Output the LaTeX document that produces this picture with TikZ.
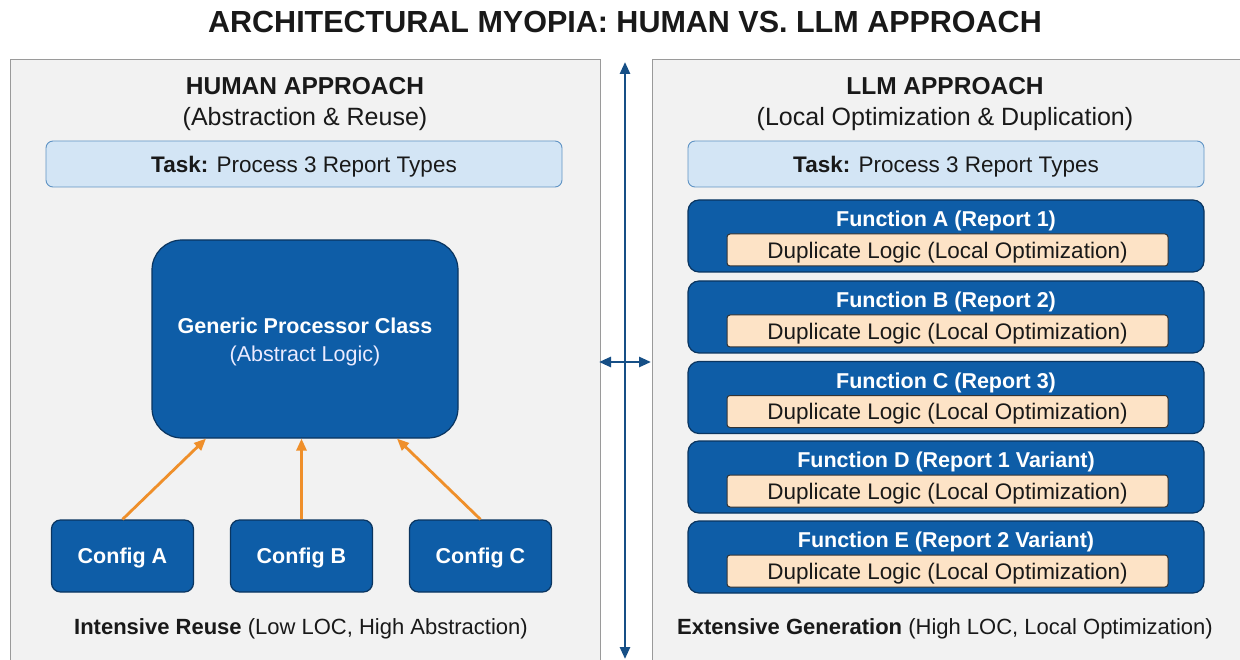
\documentclass[tikz,border=0pt]{standalone}
\usepackage{fontspec}
\setmainfont{Liberation Sans}
\usetikzlibrary{arrows.meta,calc}
\definecolor{panelgray}{HTML}{F2F2F2}
\definecolor{panelborder}{HTML}{9A9A9A}
\definecolor{dblue}{HTML}{0E5DA7}
\definecolor{dborder}{HTML}{0A3560}
\definecolor{lblue}{HTML}{D3E5F5}
\definecolor{lborder}{HTML}{5F93C4}
\definecolor{peach}{HTML}{FDE3C6}
\definecolor{orangeA}{HTML}{EF8F2A}
\definecolor{divblue}{HTML}{164F86}
\tikzset{
  every node/.style={text depth=0pt},
  panelfill/.style={fill=panelgray},
  panelline/.style={draw=panelborder,line width=1pt},
  taskbox/.style={rectangle,rounded corners=7pt,fill=lblue,draw=lborder,line width=0.9pt,minimum width=516pt,minimum height=46pt,font=\fontsize{22.5}{26}\selectfont,text=black!90},
  genbox/.style={rectangle,rounded corners=30pt,fill=dblue,draw=dborder,line width=1.2pt,minimum width=306pt,minimum height=198pt},
  cfgbox/.style={rectangle,rounded corners=9pt,fill=dblue,draw=dborder,line width=1.2pt,minimum width=142pt,minimum height=72pt,text=white,font=\bfseries\fontsize{21.5}{25}\selectfont},
  fnbox/.style={rectangle,rounded corners=11pt,fill=dblue,draw=dborder,line width=1.2pt,minimum width=516pt,minimum height=72pt},
  fntitle/.style={text=white,font=\bfseries\fontsize{21.5}{25}\selectfont,inner sep=0pt},
  dupbox/.style={rectangle,rounded corners=3pt,fill=peach,draw=black!80,line width=1pt,minimum width=441pt,minimum height=32pt,font=\fontsize{22.5}{26}\selectfont,text=black!90,inner sep=0pt},
  head/.style={font=\bfseries\fontsize{24.5}{28}\selectfont,text=black!90,inner sep=0pt},
  sub/.style={font=\fontsize{25}{29}\selectfont,text=black!90,inner sep=0pt},
  foot/.style={font=\fontsize{22}{25}\selectfont,text=black!90,inner sep=0pt},
  carrow/.style={-{Triangle[length=12pt,width=10pt]},orangeA,line width=2.8pt},
  darrow/.style={{Triangle[length=12pt,width=10pt]}-{Triangle[length=12pt,width=10pt]},divblue,line width=2.6pt}
}
\begin{document}
\begin{tikzpicture}[x=1pt,y=-1pt]
\useasboundingbox (0,0) rectangle (1240,660);
\fill[white] (0,0) rectangle (1240,660);
% title
\node[font=\bfseries\fontsize{30.5}{34}\selectfont,text=black!90,inner sep=0pt] (title) at (625,22) {ARCHITECTURAL MYOPIA: HUMAN VS. LLM APPROACH};
% panels
\fill[panelfill] (10,60) rectangle (600,670);
\fill[panelfill] (652,60) rectangle (1250,670);
\draw[panelline] (10,670) -- (10,60) -- (600,60) -- (600,670);
\draw[panelline] (652,670) -- (652,60) -- (1250,60);
% divider arrows
\coordinate (vt) at (625,62);
\coordinate (vb) at (625,659);
\coordinate (hl) at (599,362);
\coordinate (hr) at (651,362);
\draw[darrow] (vt) -- (vb);
\draw[darrow] (hl) -- (hr);
% left panel
\node[head] (hh) at (305,86) {HUMAN APPROACH};
\node[sub] (hs) at (305,116) {(Abstraction \& Reuse)};
\node[taskbox] (htask) at (304,164) {\textbf{Task:} Process 3 Report Types};
\node[genbox] (gen) at (305,339) {};
\node[text=white,font=\bfseries\fontsize{21.5}{25}\selectfont,inner sep=0pt] (gent) at (305,326) {Generic Processor Class};
\node[text=white!92!blue,font=\fontsize{21.5}{25}\selectfont,inner sep=0pt] (gens) at (305,354) {(Abstract Logic)};
\node[cfgbox] (cA) at (122.5,556) {Config A};
\node[cfgbox] (cB) at (301.5,556) {Config B};
\node[cfgbox] (cC) at (480.5,556) {Config C};
\draw[carrow] (cA.north) -- ($(gen.south)+(-99,0)$);
\draw[carrow] (cB.north) -- (gen.south -| cB.north);
\draw[carrow] (cC.north) -- ($(gen.south)+(92,0)$);
\node[foot] (hfoot) at (301,627) {\textbf{Intensive Reuse} (Low LOC, High Abstraction)};
% right panel
\node[head] (lh) at (945,86) {LLM APPROACH};
\node[sub] (ls) at (945,116) {(Local Optimization \& Duplication)};
\node[taskbox] (ltask) at (946,164) {\textbf{Task:} Process 3 Report Types};
\foreach \n/\t/\y in {fA/Function A (Report 1)/236, fB/Function B (Report 2)/317, fC/Function C (Report 3)/397.5, fD/Function D (Report 1 Variant)/477, fE/Function E (Report 2 Variant)/557}{
  \node[fnbox] (\n) at (946,\y) {};
  \node[fntitle] (\n t) at (946,\y-17) {\t};
  \node[dupbox] (\n d) at (947.5,\y+14) {Duplicate Logic (Local Optimization)};
}
\node[foot] (lfoot) at (945,627) {\textbf{Extensive Generation} (High LOC, Local Optimization)};
\end{tikzpicture}
\end{document}
